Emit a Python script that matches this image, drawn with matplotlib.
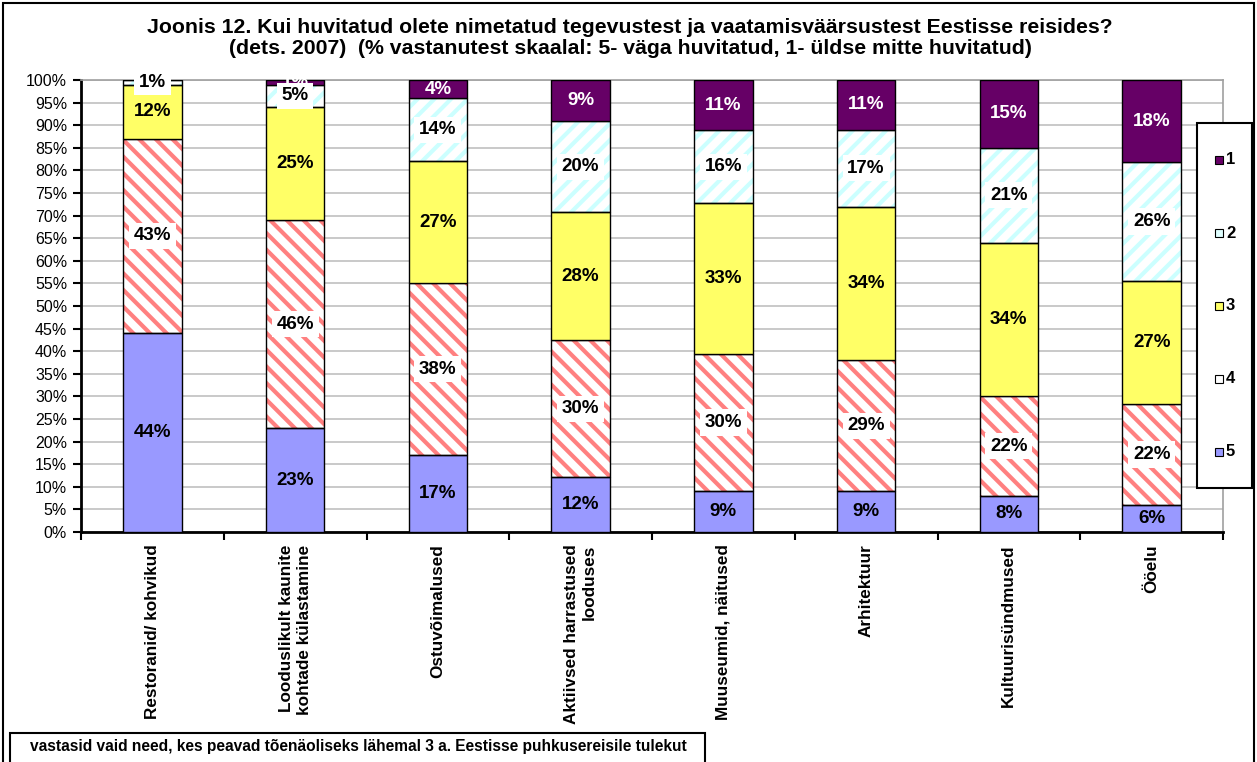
import matplotlib
matplotlib.use("Agg")
import matplotlib.pyplot as plt
from matplotlib.patches import Rectangle
import numpy as np

plt.rcParams['font.family'] = ['Liberation Sans', 'DejaVu Sans']
plt.rcParams['hatch.linewidth'] = 3.0

categories = ["Restoranid/ kohvikud", "Looduslikult kaunite\nkohtade külastamine", "Ostuvõimalused",
              "Aktiivsed harrastused\nlooduses", "Muuseumid, näitused", "Arhitektuur",
              "Kultuurisündmused", "Ööelu"]
s5 = [44, 23, 17, 12, 9, 9, 8, 6]
s4 = [43, 46, 38, 30, 30, 29, 22, 22]
s3 = [12, 25, 27, 28, 33, 34, 34, 27]
s2 = [1, 5, 14, 20, 16, 17, 21, 26]
s1 = [0, 1, 4, 9, 11, 11, 15, 18]
series_names = ["5", "4", "3", "2", "1"]
title = ("Joonis 12. Kui huvitatud olete nimetatud tegevustest ja vaatamisväärsustest Eestisse reisides?\n"
         "(dets. 2007)  (% vastanutest skaalal: 5- väga huvitatud, 1- üldse mitte huvitatud)")
footnote = "vastasid vaid need, kes peavad tõenäoliseks lähemal 3 a. Eestisse puhkusereisile tulekut"

W, H = 1257, 762
fig = plt.figure(figsize=(W / 100, H / 100), dpi=100)
ax = fig.add_axes([81 / W, 1 - 532 / H, (1223 - 81) / W, (532 - 80) / H])

data = np.array([s5, s4, s3, s2, s1], dtype=float)
totals = data.sum(axis=0)
pct = data / totals * 100

styles = [
    dict(face="#9999FF", hatch=None, hcol=None, tcol="black", box=False, leg="#9999FF"),
    dict(face="white", hatch="\\\\", hcol="#FF8080", tcol="black", box=True, leg="white"),
    dict(face="#FFFF66", hatch=None, hcol=None, tcol="black", box=False, leg="#FFFF66"),
    dict(face="white", hatch="//", hcol="#CCFFFF", tcol="black", box=True, leg="#E0FFFF"),
    dict(face="#660066", hatch=None, hcol=None, tcol="white", box=False, leg="#660066"),
]

x = np.arange(len(categories))
width = 0.41
bottom = np.zeros(len(categories))
for i, st in enumerate(styles):
    h = pct[i]
    if st["hatch"]:
        ax.bar(x, h, width, bottom=bottom, facecolor="white", edgecolor=st["hcol"],
               hatch=st["hatch"], linewidth=0, zorder=2)
        ax.bar(x, h, width, bottom=bottom, facecolor="none", edgecolor="black",
               linewidth=1.0, zorder=3)
    else:
        ax.bar(x, h, width, bottom=bottom, facecolor=st["face"], edgecolor="black",
               linewidth=1.0, zorder=3)
    for j in range(len(categories)):
        v = data[i][j]
        if v <= 0:
            continue
        kw = dict(ha="center", va="center", fontsize=13.5, fontweight="bold",
                  color=st["tcol"], zorder=5)
        if st["box"]:
            kw["bbox"] = dict(boxstyle="square,pad=0.25", facecolor="white", edgecolor="none")
        ax.text(x[j], bottom[j] + h[j] / 2, f"{int(v)}%", **kw)
    bottom += h

ax.set_xlim(-0.5, len(categories) - 0.5)
ax.set_ylim(0, 100)
ax.set_yticks(np.arange(0, 101, 5))
ax.set_yticklabels([f"{v}%" for v in range(0, 101, 5)], fontsize=11.5)
ax.yaxis.grid(True, color="#C0C0C0", linewidth=1.2, zorder=0)
ax.set_axisbelow(True)
ax.tick_params(axis="y", direction="out", length=6, width=1.5, pad=4)

ax.set_xticks(x)
ax.set_xticklabels(categories, rotation=90, fontsize=12.3, fontweight="bold",
                   ha="center", va="top", multialignment="right")
for t in ax.get_xticklabels():
    t.set_linespacing(1.25)
ax.tick_params(axis="x", length=0, pad=9)
ax.set_xticks(np.arange(-0.5, len(categories), 1), minor=True)
ax.tick_params(axis="x", which="minor", direction="out", length=6, width=1.5)

for s in ["left", "bottom"]:
    ax.spines[s].set_color("black")
    ax.spines[s].set_linewidth(2)
for s in ["top", "right"]:
    ax.spines[s].set_color("#A0A0A0")
    ax.spines[s].set_linewidth(1.2)

# legend drawn as a framed box with entries 1 (top) ... 5 (bottom)
fig.add_artist(Rectangle((1197 / W, 1 - 488 / H), (1252 - 1197) / W, (488 - 123) / H,
                         transform=fig.transFigure, facecolor="white", edgecolor="black",
                         linewidth=1.5, zorder=10))
leg_y = [160, 233, 306, 379, 452]
for k, i in enumerate([4, 3, 2, 1, 0]):
    st = styles[i]
    yy = 1 - leg_y[k] / H
    fig.add_artist(Rectangle((1215 / W, yy - 4 / H), 8 / W, 8 / H,
                             transform=fig.transFigure, facecolor=st["leg"],
                             edgecolor="black", linewidth=0.8, zorder=11))
    fig.text(1226 / W, yy, series_names[i], ha="left", va="center", fontsize=12,
             fontweight="bold", zorder=11)

fig.text(630 / W, 1 - 38 / H, title, ha="center", va="center", fontsize=15.3,
         fontweight="bold", linespacing=1.15)

# outer border
fig.add_artist(Rectangle((3 / W, -0.05), (1254 - 3) / W, 1.05 - 3 / H,
                         transform=fig.transFigure, fill=False, edgecolor="black",
                         linewidth=1.5))
# footnote box
fig.add_artist(Rectangle((10 / W, -0.05), (705 - 10) / W, 0.05 + 1 - 733 / H,
                         transform=fig.transFigure, facecolor="white", edgecolor="black",
                         linewidth=1.5))
fig.text(358 / W, 1 - 747 / H, footnote, ha="center", va="center", fontsize=11.2,
         fontweight="bold")

fig.savefig("out.png", dpi=100)
